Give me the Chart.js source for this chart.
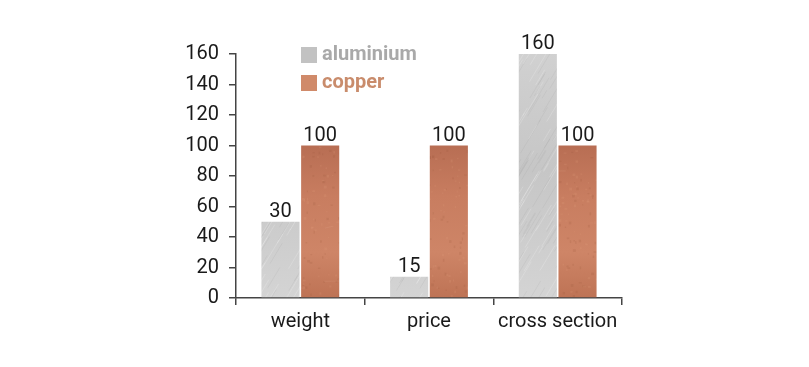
<!DOCTYPE html>
<html>
<head>
<meta charset="utf-8">
<script src="https://cdn.jsdelivr.net/npm/chart.js@4.4.1/dist/chart.umd.min.js"></script>
<style>
  html, body { margin: 0; padding: 0; background: #ffffff; }
  #wrap { width: 809px; height: 367px; }
</style>
</head>
<body>
<div id="wrap"><canvas id="myPlot1" width="809" height="367"></canvas></div>
<script>
const categories = ['weight', 'price', 'cross section']
const aluminiumValues = [50, 14, 160]
const copperValues = [100, 100, 100]
// texts printed above the bars (as shown in the picture)
const aluminiumLabels = ['30', '15', '160']
const copperLabels = ['100', '100', '100']
const yTicks = [0, 20, 40, 60, 80, 100, 120, 140, 160]

const FONT = 'Roboto, "Liberation Sans", sans-serif'

// simple deterministic noise for the metal textures
let seed = 7
function rnd(){
    seed = (seed * 16807) % 2147483647
    return seed / 2147483647
}

function metalTexture(kind){
    const c = document.createElement('canvas')
    c.width = 809
    c.height = 367
    const g = c.getContext('2d')
    if (kind === 'alu') {
        const grad = g.createLinearGradient(0, 40, 0, 300)
        grad.addColorStop(0, '#d2d2d2')
        grad.addColorStop(0.5, '#c6c6c6')
        grad.addColorStop(1, '#d4d4d4')
        g.fillStyle = grad
        g.fillRect(0, 0, c.width, c.height)
        for (let i = 0; i < 2500; i++) {
            const x = rnd() * 900 - 50
            const y = rnd() * 400
            const len = 6 + rnd() * 30
            g.strokeStyle = rnd() > 0.5 ? 'rgba(255,255,255,0.3)' : 'rgba(130,130,130,0.18)'
            g.lineWidth = 0.6
            g.beginPath()
            g.moveTo(x, y)
            g.lineTo(x + len * 0.6, y - len)
            g.stroke()
        }
    } else {
        const grad = g.createLinearGradient(0, 140, 0, 300)
        grad.addColorStop(0, '#b66c52')
        grad.addColorStop(0.35, '#c87d60')
        grad.addColorStop(0.7, '#ce8567')
        grad.addColorStop(1, '#bd7254')
        g.fillStyle = grad
        g.fillRect(0, 0, c.width, c.height)
        for (let i = 0; i < 4000; i++) {
            const x = rnd() * 809
            const y = rnd() * 367
            g.fillStyle = rnd() > 0.5 ? 'rgba(225,160,130,0.18)' : 'rgba(140,75,50,0.14)'
            g.fillRect(x, y, 1 + rnd() * 2, 1 + rnd() * 2)
        }
        for (let i = 0; i < 40; i++) {
            const x = rnd() * 809
            const y = rnd() * 367
            g.strokeStyle = 'rgba(235,180,155,0.3)'
            g.lineWidth = 0.5
            g.beginPath()
            g.moveTo(x, y)
            g.lineTo(x + 6 + rnd() * 14, y - 2 + rnd() * 4)
            g.stroke()
        }
    }
    return g.createPattern(c, 'no-repeat')
}

const aluPattern = metalTexture('alu')
const copperPattern = metalTexture('copper')

const valueLabels = {
    id: 'valueLabels',
    afterDatasetsDraw: (chart) => {
        const {ctx} = chart
        const texts = [aluminiumLabels, copperLabels]
        ctx.save()
        ctx.font = '20px ' + FONT
        ctx.fillStyle = '#1a1a1a'
        ctx.textAlign = 'center'
        ctx.textBaseline = 'alphabetic'
        chart.data.datasets.forEach((ds, di) => {
            chart.getDatasetMeta(di).data.forEach((bar, i) => {
                ctx.fillText(texts[di][i], bar.x, bar.y - 5)
            })
        })
        ctx.restore()
    }
}

const sideLegend = {
    id: 'sideLegend',
    afterDraw: (chart) => {
        const {ctx} = chart
        const colors = ['#a9a9a9', '#c98c6c']
        ctx.save()
        ctx.font = 'bold 20px ' + FONT
        ctx.textBaseline = 'middle'
        chart.data.datasets.forEach((ds, i) => {
            const y = 55 + i * 28
            ctx.fillStyle = i === 0 ? '#c2c2c2' : '#d08a6a'
            ctx.fillRect(301, y - 8, 16, 16)
            ctx.fillStyle = colors[i]
            ctx.fillText(ds.label, 322, y)
        })
        ctx.restore()
    }
}

new Chart(
    'myPlot1',
    {
        type: 'bar',
        data: {
            labels: categories,
            datasets: [
                {
                    label: 'aluminium',
                    data: aluminiumValues,
                    backgroundColor: aluPattern,
                    categoryPercentage: 0.617,
                    barPercentage: 0.96
                },
                {
                    label: 'copper',
                    data: copperValues,
                    backgroundColor: copperPattern,
                    categoryPercentage: 0.617,
                    barPercentage: 0.96
                }
            ]
        },
        options: {
            responsive: false,
            animation: false,
            layout: {
                padding: {top: 54, right: 187, bottom: 0, left: 0}
            },
            scales: {
                x: {
                    offset: true,
                    grid: {
                        offset: true,
                        drawOnChartArea: false,
                        tickLength: 7,
                        color: '#444444',
                        lineWidth: 1.5
                    },
                    border: {color: '#444444', width: 1.5},
                    ticks: {color: '#1a1a1a', font: {family: FONT, size: 20}, padding: 5},
                    afterFit: (scale) => { scale.height = 69 }
                },
                y: {
                    min: 0,
                    max: 160,
                    afterBuildTicks: (scale) => { scale.ticks = yTicks.map(v => ({value: v})) },
                    grid: {
                        drawOnChartArea: false,
                        tickLength: 7,
                        color: '#444444',
                        lineWidth: 1.5
                    },
                    border: {color: '#444444', width: 1.5},
                    ticks: {color: '#1a1a1a', font: {family: FONT, size: 20}, padding: 10},
                    afterFit: (scale) => { scale.width = 236 }
                }
            },
            plugins: {
                legend: {display: false},
                tooltip: {enabled: false}
            }
        },
        plugins: [valueLabels, sideLegend]
    }
)
</script>
</body>
</html>
